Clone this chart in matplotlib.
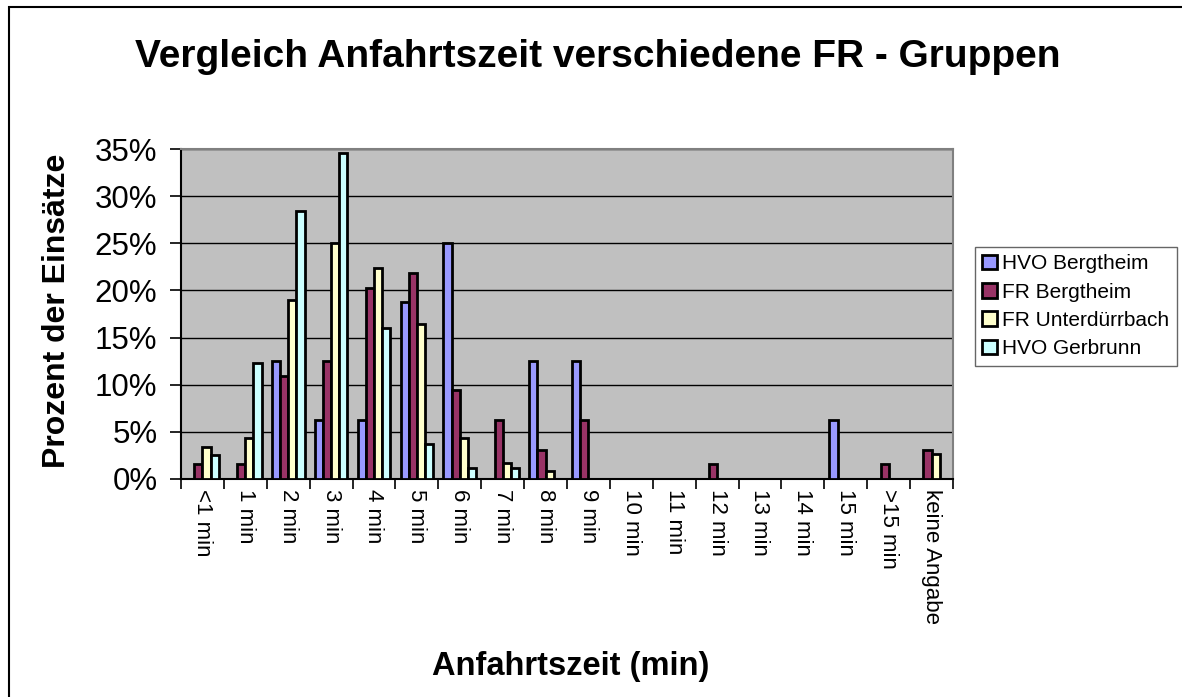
import matplotlib.pyplot as plt
import numpy as np
from matplotlib.patches import Rectangle

plt.rcParams['font.family'] = ['Liberation Sans', 'DejaVu Sans']

# categories (Anfahrtszeit)
categories = ['<1 min', '1 min', '2 min', '3 min', '4 min', '5 min', '6 min',
              '7 min', '8 min', '9 min', '10 min', '11 min', '12 min', '13 min',
              '14 min', '15 min', '>15 min', 'keine Angabe']

# percentages
hvo_bergtheim = [0, 0, 12.5, 6.25, 6.25, 18.75, 25.0, 0, 12.5, 12.5, 0, 0, 0, 0, 0, 6.25, 0, 0]
fr_bergtheim = [1.6, 1.6, 10.9, 12.5, 20.3, 21.9, 9.4, 6.25, 3.1, 6.25, 0, 0, 1.6, 0, 0, 0, 1.6, 3.1]
fr_unterduerrbach = [3.4, 4.3, 19.0, 25.0, 22.4, 16.4, 4.3, 1.7, 0.9, 0, 0, 0, 0, 0, 0, 0, 0, 2.6]
hvo_gerbrunn = [2.5, 12.3, 28.4, 34.6, 16.0, 3.7, 1.2, 1.2, 0, 0, 0, 0, 0, 0, 0, 0, 0, 0]

series = [hvo_bergtheim, fr_bergtheim, fr_unterduerrbach, hvo_gerbrunn]
names = ['HVO Bergtheim', 'FR Bergtheim', 'FR Unterdürrbach', 'HVO Gerbrunn']
colors = ['#9999FF', '#993366', '#FFFFCC', '#CCFFFF']

W, H = 1182, 697
fig = plt.figure(figsize=(W/100, H/100), dpi=100)
ax = fig.add_axes([181/W, 1-479/H, 772/W, 330/H])
ax.set_facecolor('#C0C0C0')

x = np.arange(len(categories))
w = 0.19
for k in range(4):
    ax.bar(x + (k - 1.5)*w, series[k], w, color=colors[k], edgecolor='black',
           linewidth=2, label=names[k], zorder=3)

ax.set_xlim(-0.5, len(categories) - 0.5)
ax.set_ylim(0, 35)
ax.set_yticks(np.arange(0, 36, 5))
ax.set_yticklabels(['%d%%' % v for v in range(0, 36, 5)], fontsize=22.5)
ax.yaxis.grid(True, color='black', linewidth=1.0, zorder=0)
ax.set_axisbelow(True)

ax.set_xticks(np.arange(-0.5, len(categories), 1))
ax.set_xticklabels([])
ax.set_xticks(x, minor=True)
ax.set_xticklabels(categories, minor=True, rotation=270, fontsize=16, va='top', ha='center')
ax.tick_params(axis='x', which='major', length=7, width=1.2, direction='out')
ax.tick_params(axis='x', which='minor', length=0, pad=7)
ax.tick_params(axis='y', length=8, width=1.2, direction='out', pad=9)

ax.spines['left'].set_color('black')
ax.spines['bottom'].set_color('black')
ax.spines['top'].set_color('#808080')
ax.spines['right'].set_color('#808080')
for s in ax.spines.values():
    s.set_linewidth(1.5)

fig.text(598/W, 1-57/H, 'Vergleich Anfahrtszeit verschiedene FR - Gruppen',
         fontsize=28, fontweight='bold', ha='center', va='center')
fig.text(57/W, 1-311/H, 'Prozent der Einsätze', fontsize=23, fontweight='bold',
         rotation=90, ha='center', va='center')
fig.text(571/W, 1-667/H, 'Anfahrtszeit (min)', fontsize=23.5, fontweight='bold',
         ha='center', va='center')

leg = fig.legend(loc='upper left', bbox_to_anchor=(975/W, 1-247/H),
                 fontsize=15, frameon=True, fancybox=False, edgecolor='#404040',
                 handlelength=0.7, handleheight=0.7, handletextpad=0.25,
                 labelspacing=0.45, borderpad=0.35, borderaxespad=0)
leg.get_frame().set_linewidth(1.0)
for h in leg.legend_handles:
    h.set_linewidth(2)

# chart area border (only left and top edges fall inside the image)
fig.patches.append(Rectangle((9/W, -0.05), 1.2, 1.05 - 7/H, transform=fig.transFigure,
                             fill=False, edgecolor='black', linewidth=1.5))

fig.savefig('out.png', dpi=100)
